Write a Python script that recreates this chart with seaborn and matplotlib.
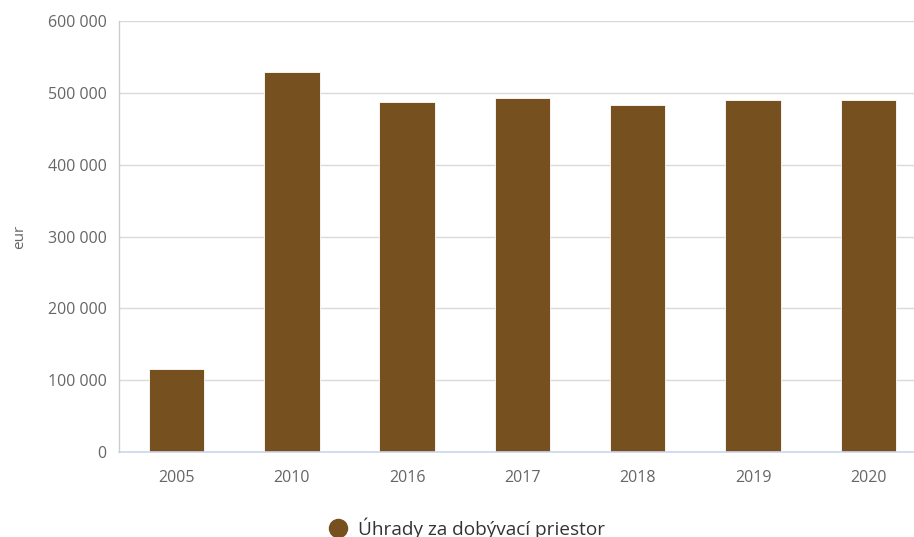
import matplotlib
matplotlib.use("Agg")
import matplotlib.pyplot as plt
import seaborn as sns
import pandas as pd
from matplotlib.lines import Line2D
from matplotlib.ticker import FuncFormatter

years = ["2005", "2010", "2016", "2017", "2018", "2019", "2020"]
values = [115600, 529500, 487700, 492300, 483600, 490000, 490000]
series_name = "Úhrady za dobývací priestor"
y_ticks = [0, 100000, 200000, 300000, 400000, 500000, 600000]

sns.set_theme(style="white")
plt.rcParams['font.family'] = ['Open Sans', 'DejaVu Sans']

df = pd.DataFrame({"year": years, "value": values})
color = "#76501F"

fig = plt.figure(figsize=(9.14, 5.37), dpi=100)
ax = fig.add_axes([0.1301, 0.158, 0.883, 0.803])
sns.barplot(data=df, x="year", y="value", color=color, width=0.48, ax=ax,
            saturation=1, edgecolor="white", linewidth=0.6)

ax.set_ylim(0, 600000)
ax.set_yticks(y_ticks)
ax.yaxis.set_major_formatter(FuncFormatter(lambda v, p: f"{int(v):,}".replace(",", " ")))
ax.grid(axis="y", color="#DADADA", linewidth=1)
ax.set_axisbelow(True)
for s in ["top", "right"]:
    ax.spines[s].set_visible(False)
ax.spines["left"].set_color("#CCCCCC")
ax.spines["left"].set_linewidth(1)
ax.spines["bottom"].set_color("#CCD6EB")
ax.spines["bottom"].set_linewidth(1.2)
ax.tick_params(axis="both", colors="#666666", labelsize=11.5, length=0)
ax.tick_params(axis="y", pad=9)
ax.tick_params(axis="x", pad=13)
ax.set_xlabel("")
ax.set_ylabel("eur", color="#666666", fontsize=11, labelpad=15)
ax.set_xlim(-0.5, len(years) - 0.5)

handle = Line2D([], [], marker="o", linestyle="none", markersize=13,
                markerfacecolor=color, markeredgecolor=color)
fig.legend([handle], [series_name], loc="center", bbox_to_anchor=(0.505, 0.017),
           frameon=False, fontsize=13.7, handletextpad=0.05, labelcolor="#333333")

fig.savefig("out.png", dpi=100)
